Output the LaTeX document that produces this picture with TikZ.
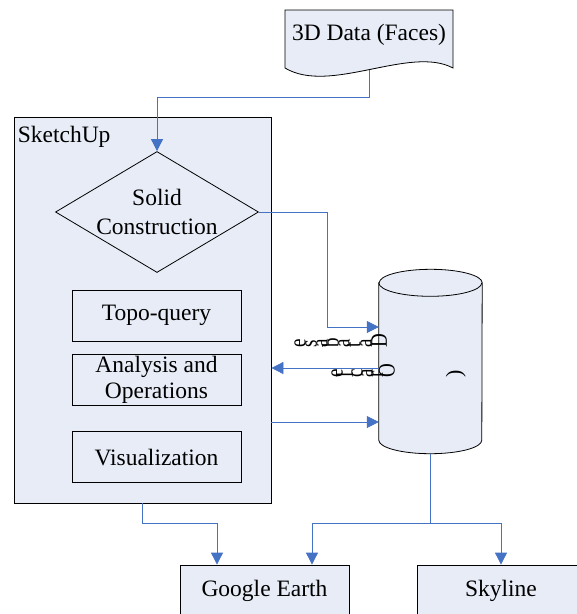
\documentclass[tikz,border=0pt]{standalone}
\usepackage{fontspec}
\usepackage{graphicx}
\setmainfont{Liberation Serif}
\usetikzlibrary{shapes.geometric,positioning,calc,arrows.meta}
\definecolor{boxfill}{HTML}{E7ECF7}
\definecolor{linkblue}{HTML}{4472C4}
\newcommand\sidechar[1]{\scalebox{1.25}[1]{\rotatebox{90}{#1}}}
\begin{document}
\begin{tikzpicture}[x=1pt, y=-1pt, >={Triangle[length=12pt,width=12pt]},
    font=\fontsize{23.5}{28}\selectfont,
    box/.style={draw, fill=boxfill, line width=0.8pt},
    inbox/.style={draw, line width=0.8pt, minimum width=169pt, minimum height=51pt, align=center, inner sep=0pt},
    link/.style={draw=linkblue, line width=0.8pt, ->},
    vglyph/.style={anchor=south east, inner sep=0pt, font=\fontsize{19}{19}\selectfont}]
  \useasboundingbox (0,0) rectangle (577,614);
  \clip (0,0) rectangle (577,614);

  % input data
  \draw[box] (285,10) -- (453,10) -- (453,68) .. controls (410,45) and (330,95) .. (285,68) -- cycle;
  \node at (369,35) (data) {3D Data (Faces)};
  \coordinate (dataout) at (369.5,69.5);

  % SketchUp
  \node[box, minimum width=257pt, minimum height=386pt] at (142.5,310) (sketch) {};
  \node[anchor=north west, inner xsep=4pt, inner ysep=9pt] at (sketch.north west) (sketchname) {SketchUp};
  \node[diamond, draw, line width=0.8pt, aspect=1.68, minimum width=203pt, minimum height=121pt, inner sep=0pt, align=center, font=\fontsize{23.5}{29}\selectfont] at (157,212) (solid) {Solid\\Construction};
  \node[inbox] at (156.5,315.5) (topo) {Topo-query};
  \node[inbox, below=13pt of topo, font=\fontsize{23.5}{26}\selectfont] (analysis) {Analysis and\\Operations};
  \node[inbox, below=25pt of analysis] (visual) {Visualization};

  % database
  \node[minimum width=103pt, minimum height=157pt, inner sep=0pt] at (430.5,361.5) (db) {};
  \draw[box] (db.north west) -- (db.south west)
    arc[start angle=180, end angle=360, x radius=51.5pt, y radius=13.5pt] -- (db.north east)
    arc[start angle=0, end angle=180, x radius=51.5pt, y radius=13.5pt] -- cycle;
  \draw[line width=0.8pt] (db.north west) arc[start angle=180, end angle=360, x radius=51.5pt, y radius=13.5pt];
  \foreach \ch/\x [count=\i] in {D/387,a/372,t/361,a/350,b/339,a/328,s/317,e/306}
    \node[vglyph] at (\x,348) (dbword\i) {\sidechar{\ch}};
  \foreach \ch/\x [count=\i] in {O/395,r/383,a/373,c/363,l/353,e/343}
    \node[vglyph] at (\x,378) (dbname\i) {\sidechar{\ch}};
  \node[vglyph, font=\fontsize{22}{22}\selectfont] at (466,378) (dbmark) {\rotatebox{90}{)}};

  % viewers
  \node[box, minimum width=169pt, minimum height=52pt] at (264.5,591) (ge) {Google Earth};
  \node[box, minimum width=168pt, minimum height=52pt] at (501,591) (sky) {Skyline};

  \draw[link] (dataout) -- ++(0,27.5) -| (solid.north);
  \draw[link] (solid.east) -- ++(68,0) |- ([yshift=34.5pt]db.west);
  \draw[link] ([yshift=-6.5pt]db.west) -- ([yshift=-58pt]sketch.east);
  \draw[link] ([yshift=-112pt]sketch.east) -- ([yshift=-60.5pt]db.west);
  \draw[link] (sketch.south) -- ++(0,20) -| ([xshift=-47.5pt]ge.north);
  \draw[link] ([yshift=-13.5pt]db.south) -- ++(0,69.5) -| ([xshift=47.5pt]ge.north);
  \draw[link] ([yshift=-13.5pt]db.south) -- ++(0,69.5) -| (sky.north);
\end{tikzpicture}
\end{document}
